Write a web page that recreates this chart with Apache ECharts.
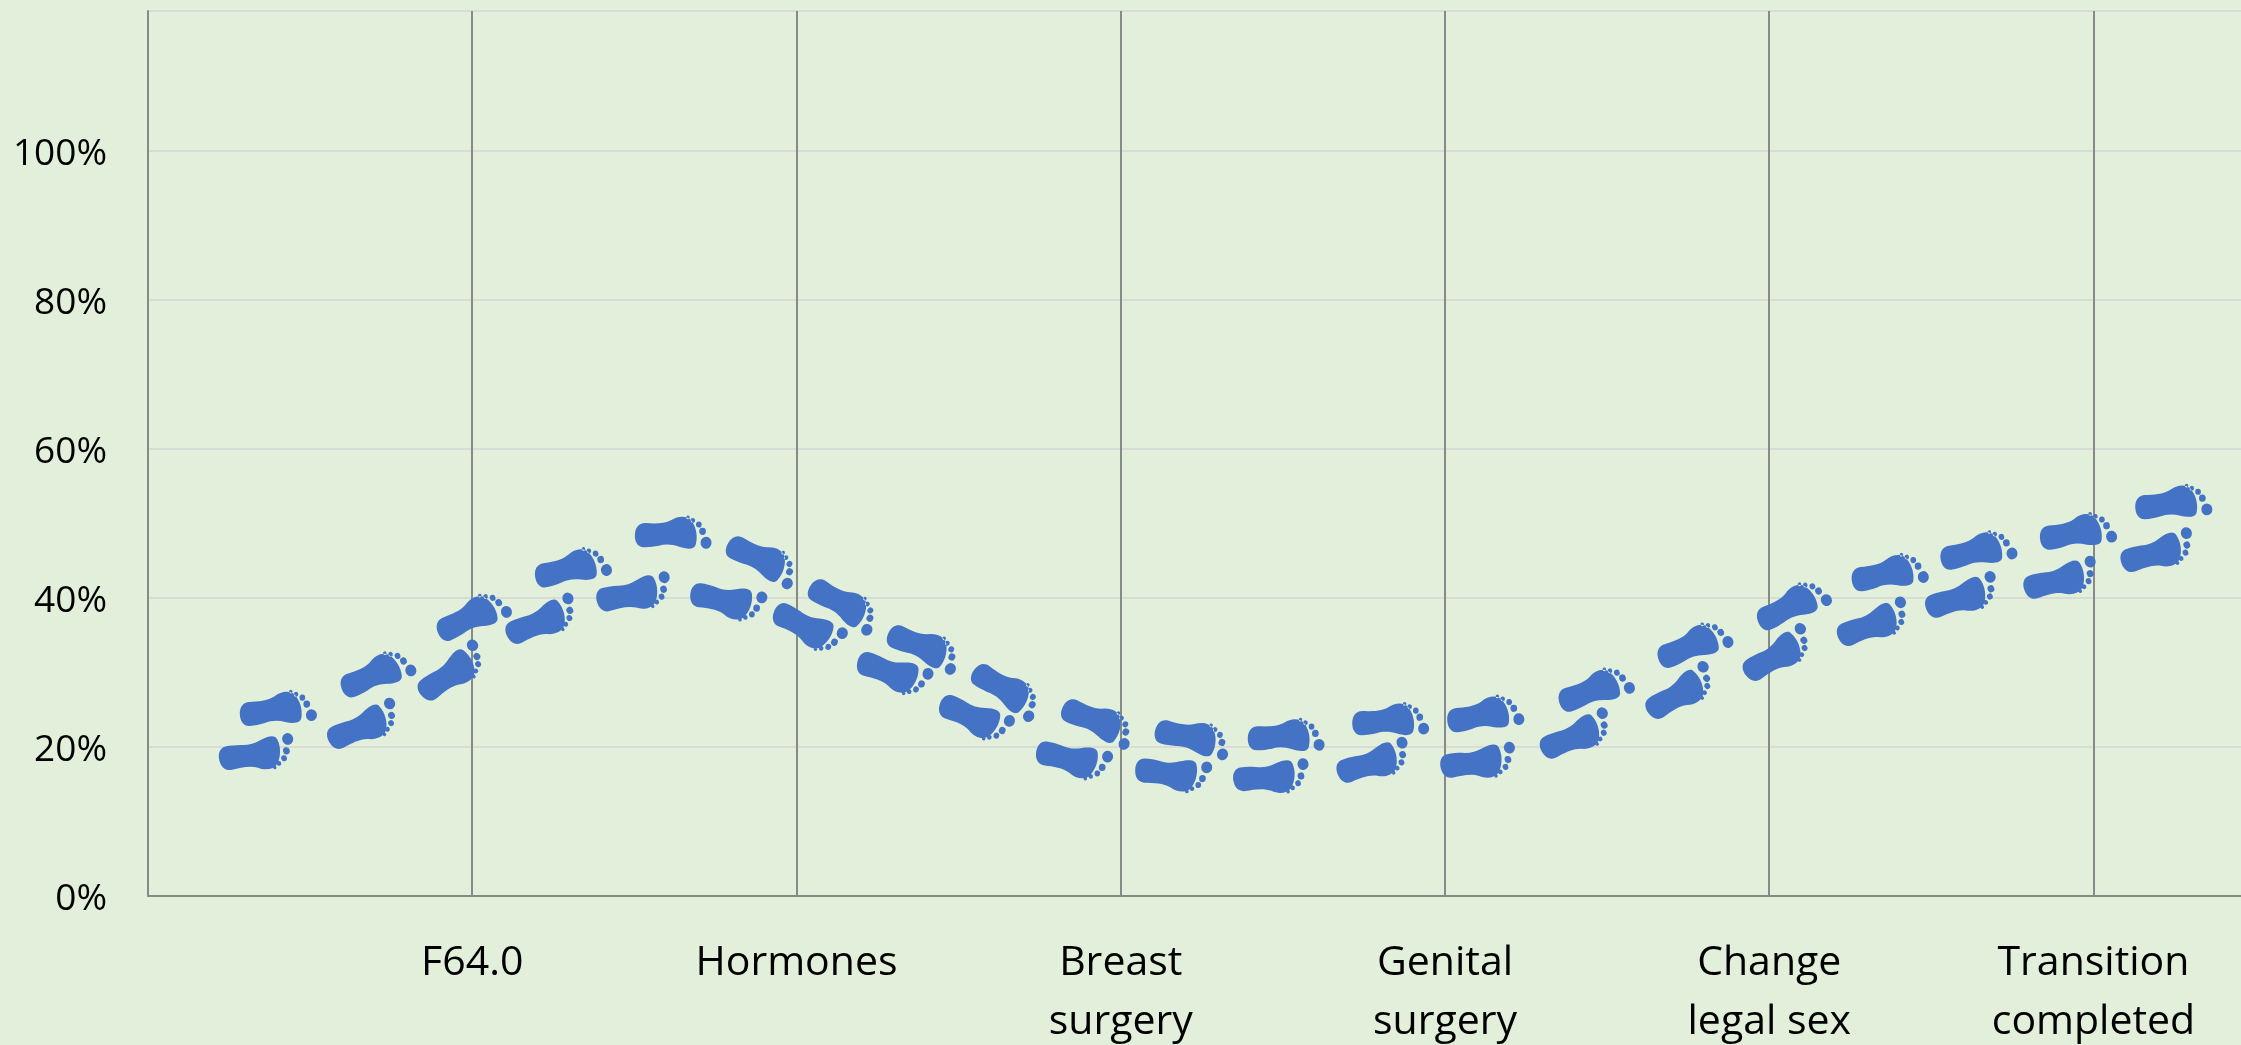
<!DOCTYPE html>
<html>
<head>
<meta charset="utf-8">
<style>
  html, body { margin: 0; padding: 0; background: #e2efda; }
  #chart { width: 2241px; height: 1045px; }
</style>
<script src="https://cdn.jsdelivr.net/npm/echarts@6/dist/echarts.min.js"></script>
</head>
<body>
<div id="chart"></div>
<script>
  // x axis stops, index = position on the axis
  var stages = ['', 'F64.0', 'Hormones', 'Breast\nsurgery', 'Genital\nsurgery', 'Change\nlegal sex', 'Transition\ncompleted'];

  // footprints: position along the stages, percent, walking direction in degrees
  var upperX = [0.401, 0.705, 1.000, 1.309, 1.621, 1.899, 2.150, 2.397, 2.652, 2.934, 3.225, 3.511, 3.833, 4.124, 4.463, 4.767, 5.071, 5.371, 5.644, 5.952, 6.247];
  var upperY = [25.3, 30.1, 37.8, 44.3, 48.9, 45.3, 39.3, 33.6, 27.8, 23.6, 21.5, 21.7, 23.8, 24.6, 28.0, 34.0, 39.3, 43.6, 46.6, 49.1, 53.0];
  var upperDir = [10, 25, 27, 16, 4, -24, -28, -20, -30, -21, -10, 5, 6, 12, 22, 24, 28, 13, 15, 12, 9];
  var lowerX = [0.339, 0.670, 0.943, 1.220, 1.503, 1.789, 2.036, 2.300, 2.551, 2.855, 3.163, 3.467, 3.785, 4.106, 4.410, 4.732, 5.032, 5.327, 5.600, 5.904, 6.203];
  var lowerY = [18.8, 22.6, 29.8, 36.7, 40.3, 39.3, 35.7, 29.6, 23.6, 18.0, 16.1, 15.7, 17.7, 17.7, 21.3, 27.1, 32.2, 36.3, 39.9, 42.2, 45.9];
  var lowerDir = [7, 22, 34, 22, 10, -13, -28, -20, -24, -14, -8, 3, 16, 6, 22, 30, 30, 20, 17, 13, 15];

  var footHeight = 31;
  // heel to ball of the drawn foot already leans this many degrees
  var footLean = 7;

  // foot pointing right; flip mirrors it so the big toe is on the other side
  function footPath(flip) {
    function y(v) { return flip ? footHeight - v : v; }
    function toe(cx, cy, r) {
      return 'M' + (cx - r) + ' ' + y(cy) +
        'A' + r + ' ' + r + ' 0 1 0 ' + (cx + r) + ' ' + y(cy) +
        'A' + r + ' ' + r + ' 0 1 0 ' + (cx - r) + ' ' + y(cy) + 'Z';
    }
    var sole = 'M10 ' + y(9) +
      'C18 ' + y(9) + ' 28 ' + y(9) + ' 35 ' + y(5) +
      'C41 ' + y(1) + ' 49 ' + y(0) + ' 54 ' + y(4) +
      'C59 ' + y(9) + ' 62 ' + y(18) + ' 60 ' + y(26) +
      'C59 ' + y(31) + ' 52 ' + y(31) + ' 44 ' + y(29) +
      'C37 ' + y(27) + ' 30 ' + y(27) + ' 24 ' + y(29) +
      'C19 ' + y(30) + ' 14 ' + y(31) + ' 9 ' + y(31) +
      'C3 ' + y(31) + ' 0 ' + y(26) + ' 0 ' + y(20) +
      'C0 ' + y(13) + ' 4 ' + y(9) + ' 10 ' + y(9) + 'Z';
    return 'path://' + sole +
      toe(70, 24, 5.4) + toe(66, 13.7, 3.3) + toe(62, 7.7, 2.8) + toe(56, 4.3, 2.2) + toe(51, 1.7, 1.7);
  }

  function footSeries(xs, ys, dirs, flip) {
    return {
      type: 'scatter',
      symbol: footPath(flip),
      symbolSize: [77, 34],
      itemStyle: { color: '#4472c4', opacity: 1 },
      silent: true,
      z: 5,
      data: xs.map(function (x, i) {
        return { value: [x, ys[i]], symbolRotate: dirs[i] + (flip ? footLean : -footLean) };
      })
    };
  }

  var chart = echarts.init(document.getElementById('chart'), null, { renderer: 'canvas' });
  chart.setOption({
    backgroundColor: '#e2efda',
    animation: false,
    textStyle: { fontFamily: 'Open Sans' },
    grid: { left: 148, right: 0, top: 11, bottom: 149, outerBoundsMode: 'none' },
    xAxis: {
      type: 'value',
      min: 0,
      max: 6.455,
      interval: 1,
      axisLine: { onZero: false, lineStyle: { color: '#868a88', width: 2 } },
      axisTick: { show: false },
      splitLine: { show: true, showMaxLine: false, lineStyle: { color: '#868a88', width: 2 } },
      axisLabel: {
        showMaxLabel: false,
        color: '#000',
        fontSize: 41,
        lineHeight: 59,
        margin: 38,
        formatter: function (v) { return stages[v] || ''; }
      }
    },
    yAxis: {
      type: 'value',
      min: 0,
      max: 118.8,
      interval: 20,
      axisLine: { show: true, lineStyle: { color: '#868a88', width: 2 } },
      axisTick: { show: false },
      splitLine: { show: true, lineStyle: { color: '#d9dcd6', width: 2 } },
      axisLabel: {
        showMaxLabel: false,
        margin: 41,
        formatter: '{t|{value}%}',
        rich: { t: { color: '#000', fontSize: 37, fontFamily: 'Open Sans', padding: [6, 0, 0, 0] } }
      }
    },
    series: [footSeries(upperX, upperY, upperDir, false), footSeries(lowerX, lowerY, lowerDir, true)]
  });
</script>
</body>
</html>
